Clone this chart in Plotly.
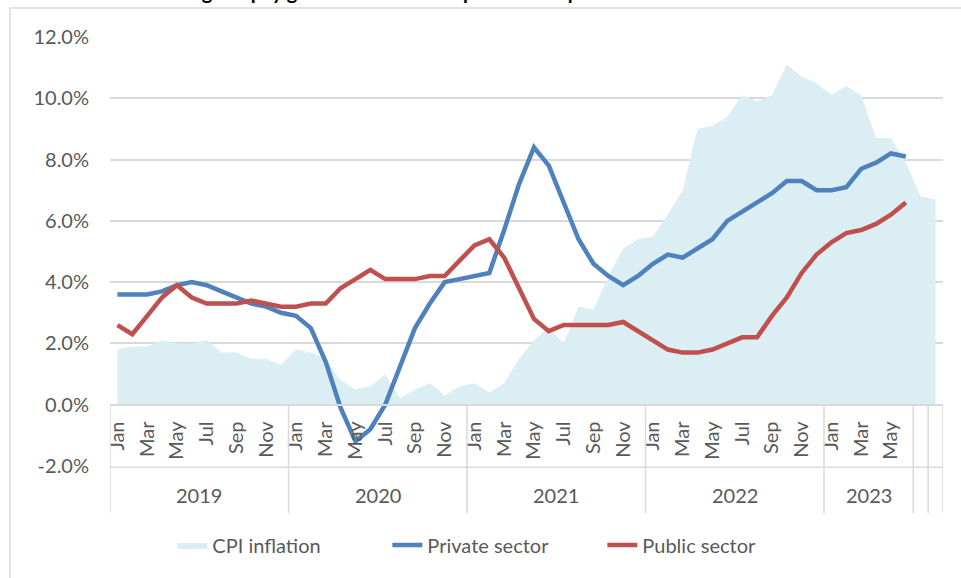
import plotly.graph_objects as go

# etiquetas del eje de categorías (Excel: mes / año, con 2 columnas vacías al final)
meses = ["Jan", "Feb", "Mar", "Apr", "May", "Jun", "Jul", "Aug", "Sep", "Oct", "Nov", "Dec"]
anios = ["2019", "2020", "2021", "2022", "2023"]
meses_por_anio = [12, 12, 12, 12, 6]
columnas_vacias = 2

cpi = [1.8, 1.9, 1.9, 2.1, 2.0, 2.0, 2.1, 1.7, 1.7, 1.5, 1.5, 1.3,
       1.8, 1.7, 1.5, 0.8, 0.5, 0.6, 1.0, 0.2, 0.5, 0.7, 0.3, 0.6,
       0.7, 0.4, 0.7, 1.5, 2.1, 2.5, 2.0, 3.2, 3.1, 4.2, 5.1, 5.4,
       5.5, 6.2, 7.0, 9.0, 9.1, 9.4, 10.1, 9.9, 10.1, 11.1, 10.7, 10.5,
       10.1, 10.4, 10.1, 8.7, 8.7, 7.9, 6.8, 6.7]

privado = [3.6, 3.6, 3.6, 3.7, 3.9, 4.0, 3.9, 3.7, 3.5, 3.3, 3.2, 3.0,
           2.9, 2.5, 1.4, -0.1, -1.2, -0.8, 0.0, 1.3, 2.5, 3.3, 4.0, 4.1,
           4.2, 4.3, 5.7, 7.2, 8.4, 7.8, 6.6, 5.4, 4.6, 4.2, 3.9, 4.2,
           4.6, 4.9, 4.8, 5.1, 5.4, 6.0, 6.3, 6.6, 6.9, 7.3, 7.3, 7.0,
           7.0, 7.1, 7.7, 7.9, 8.2, 8.1, None, None]

publico = [2.6, 2.3, 2.9, 3.5, 3.9, 3.5, 3.3, 3.3, 3.3, 3.4, 3.3, 3.2,
           3.2, 3.3, 3.3, 3.8, 4.1, 4.4, 4.1, 4.1, 4.1, 4.2, 4.2, 4.7,
           5.2, 5.4, 4.8, 3.8, 2.8, 2.4, 2.6, 2.6, 2.6, 2.6, 2.7, 2.4,
           2.1, 1.8, 1.7, 1.7, 1.8, 2.0, 2.2, 2.2, 2.9, 3.5, 4.3, 4.9,
           5.3, 5.6, 5.7, 5.9, 6.2, 6.6, None, None]

y_ticks = [-2, 0, 2, 4, 6, 8, 10, 12]

titulo = "Regular pay growth vs inflation: private and public sector"

# construir categorías
cat_mes, cat_anio = [], []
for a, n in zip(anios, meses_por_anio):
    cat_mes += meses[:n]
    cat_anio += [a] * n
cat_mes += [""] * columnas_vacias
cat_anio += [""] * columnas_vacias
x = list(range(len(cat_mes)))

GRIS = "#595959"
LINEA = "#D9D9D9"
FUENTE = "Lato"

fig = go.Figure()
fig.add_trace(go.Scatter(x=x, y=cpi, name="CPI inflation", mode="lines",
                         fill="tozeroy", fillcolor="#DAEEF3",
                         line=dict(width=0, color="#DAEEF3")))
fig.add_trace(go.Scatter(x=x[:len(privado)], y=privado, name="Private sector", mode="lines",
                         line=dict(color="#4F81BD", width=4.5)))
fig.add_trace(go.Scatter(x=x[:len(publico)], y=publico, name="Public sector", mode="lines",
                         line=dict(color="#C0504D", width=4.5)))

ymin, ymax = y_ticks[0], y_ticks[-1]
pos_cero = (0 - ymin) / (ymax - ymin)

# separadores entre grupos de años (cada columna vacía es su propio grupo)
limites = [-0.5]
for i in range(1, len(cat_anio)):
    if cat_anio[i] != cat_anio[i - 1] or cat_anio[i] == "":
        limites.append(i - 0.5)
limites.append(len(cat_anio) - 0.5)

shapes = []
for b in limites:
    shapes.append(dict(type="line", xref="x", yref="paper", x0=b, x1=b,
                       y0=pos_cero, y1=-0.11, line=dict(color=LINEA, width=1.5)))
shapes.append(dict(type="line", xref="paper", yref="paper", x0=0, x1=1,
                   y0=-0.003, y1=-0.003, line=dict(color=LINEA, width=1.5)))
# borde del gráfico
shapes.append(dict(type="rect", xref="paper", yref="paper", x0=-0.12, x1=1.04,
                   y0=-0.32, y1=1.0676, line=dict(color=LINEA, width=1.5)))

anotaciones = []
for a in anios:
    idx = [i for i, c in enumerate(cat_anio) if c == a]
    anotaciones.append(dict(x=sum(idx) / len(idx), y=-0.068, xref="x", yref="paper",
                            text=a, showarrow=False, yanchor="middle",
                            font=dict(family=FUENTE, size=20, color=GRIS)))

# título: en el original queda recortado por el borde superior
anotaciones.append(dict(x=0.08, y=1.0735, xref="paper", yref="paper",
                        xanchor="left", yanchor="bottom", showarrow=False,
                        text="<b>" + titulo + "</b>",
                        font=dict(family=FUENTE, size=20, color="black")))

tick_vals = [i for i, m in enumerate(cat_mes) if m and meses.index(m) % 2 == 0]
tick_text = [cat_mes[i] for i in tick_vals]

fig.update_layout(
    width=961, height=578,
    margin=dict(l=110, r=18, t=37, b=112),
    plot_bgcolor="white", paper_bgcolor="white",
    xaxis=dict(range=[-0.5, len(x) - 0.5], tickmode="array", tickvals=tick_vals,
               ticktext=tick_text, tickangle=-90, showgrid=False, zeroline=False,
               showline=True, linecolor=LINEA, linewidth=1.5, ticks="",
               anchor="free", position=pos_cero, ticklabelstandoff=8,
               tickfont=dict(family=FUENTE, size=20, color=GRIS)),
    yaxis=dict(range=[ymin, ymax], tickmode="array", tickvals=y_ticks,
               ticktext=[f"{v:.1f}%" for v in y_ticks],
               showgrid=True, gridcolor=LINEA, gridwidth=1.5, zeroline=False,
               ticklabelstandoff=20,
               tickfont=dict(family=FUENTE, size=20, color=GRIS)),
    showlegend=True,
    legend=dict(orientation="h", x=0.462, xanchor="center", y=-0.184, yanchor="middle",
                entrywidth=170, entrywidthmode="pixels",
                font=dict(family=FUENTE, size=20, color=GRIS), traceorder="normal"),
    shapes=shapes,
    annotations=anotaciones,
)

# quitar el margen de 8px del body para que el gráfico empiece en (0,0)
fig.write_html("out.html", config={"displayModeBar": False},
               post_script="document.body.style.margin='0';")
